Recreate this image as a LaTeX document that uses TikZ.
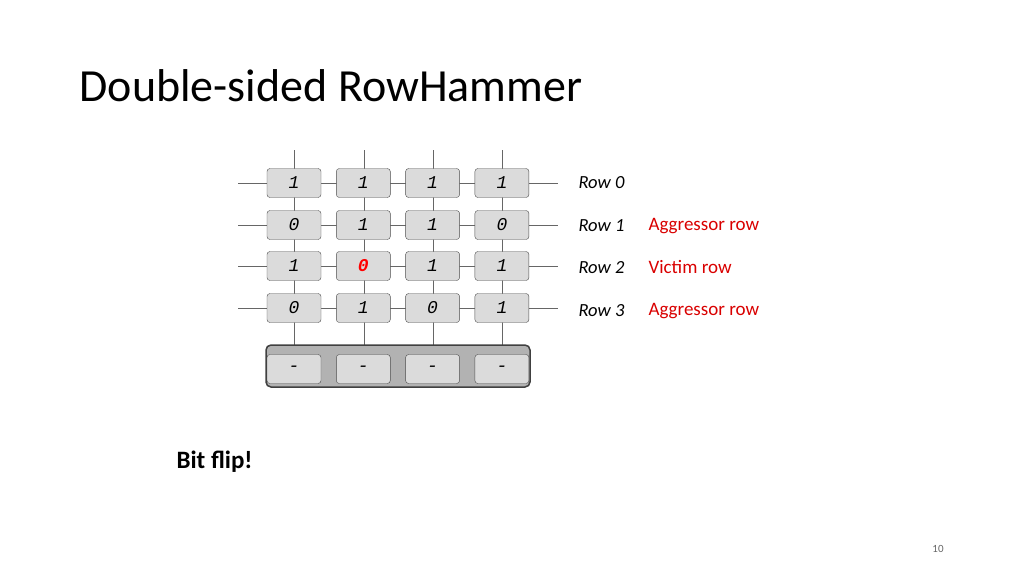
\documentclass[tikz,border=0pt]{standalone}
\usepackage{fontspec}
\setmainfont{Carlito}
\newfontfamily\cellfont{Liberation Mono}
\begin{document}
\begin{tikzpicture}[x=1pt,y=-1pt]
\tikzset{cell/.style={draw=black!70,fill=black!14,rounded corners=3pt,minimum width=54pt,minimum height=29pt,inner sep=0pt,font=\fontsize{18}{20}\cellfont\itshape},
wire/.style={draw=black!60,line width=0.8pt},
rowlab/.style={anchor=west,font=\fontsize{18.5}{20}\selectfont\itshape},
redlab/.style={anchor=west,text=red!85!black,font=\fontsize{19}{21}\selectfont}}
\useasboundingbox (0,0) rectangle (1024,576);
\node[anchor=west,font=\fontsize{46}{50}\selectfont] (title) at (76,86) {Double-sided RowHammer};
% wires
\foreach \x in {294,364,433,502} \draw[wire] (\x,150) -- (\x,346);
\foreach \y in {183,225,266,308} \draw[wire] (238,\y) -- (558,\y);
% row buffer
\draw[draw=black!75,fill=black!30,line width=1.5pt,rounded corners=5pt] (266,345) rectangle (530,387);
% cells
\foreach \v [count=\i] in {1,1,1,1} \node[cell] (c0\i) at ({294+69.3*(\i-1)},183) {\v};
\foreach \v [count=\i] in {0,1,1,0} \node[cell] (c1\i) at ({294+69.3*(\i-1)},225) {\v};
\foreach \v [count=\i] in {1,{\textcolor{red}{\bfseries0}},1,1} \node[cell] (c2\i) at ({294+69.3*(\i-1)},266) {\v};
\foreach \v [count=\i] in {0,1,0,1} \node[cell] (c3\i) at ({294+69.3*(\i-1)},308) {\v};
\foreach \i in {1,...,4} \node[cell] (b\i) at ({294+69.3*(\i-1)},369) {-};
% labels
\node[rowlab] (r0) at (575,183) {Row 0};
\node[rowlab] (r1) at (575,226) {Row 1};
\node[rowlab] (r2) at (575,268) {Row 2};
\node[rowlab] (r3) at (575,311) {Row 3};
\node[redlab] (a1) at (645,226) {Aggressor row};
\node[redlab] (v2) at (645,267) {Victim row};
\node[redlab] (a3) at (645,311) {Aggressor row};
\node[anchor=west,font=\fontsize{25}{28}\selectfont\bfseries] (flip) at (173,462) {Bit flip!};
\node[font=\fontsize{11}{13}\selectfont,text=black!60] (pg) at (938,549) {10};
\end{tikzpicture}
\end{document}
